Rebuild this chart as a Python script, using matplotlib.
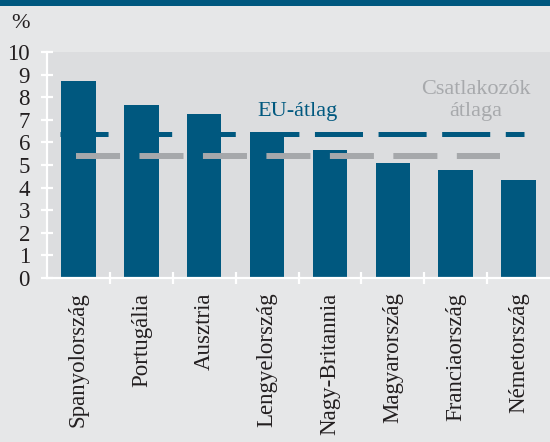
import numpy as np
import matplotlib.pyplot as plt
from matplotlib.patches import Rectangle

plt.rcParams['font.family'] = ['Liberation Serif', 'DejaVu Serif']

# Adatok
countries = ['Spanyolország', 'Portugália', 'Ausztria', 'Lengyelország',
             'Nagy-Britannia', 'Magyarország', 'Franciaország', 'Németország']
values = [8.7, 7.65, 7.25, 6.45, 5.65, 5.1, 4.8, 4.35]
eu_avg = 6.35
acc_avg = 5.4
eu_span = (-0.3, 7.08)
acc_span = (-0.04, 6.7)

blue = '#00587f'
grey_line = '#a6a8ab'
bg = '#e6e7e8'
plot_bg = '#dcdddf'
txt = '#231f20'

fig = plt.figure(figsize=(5.5, 4.42), dpi=100, facecolor=bg)
ax = fig.add_axes([47 / 550, 1 - 278 / 442, 1 - 47 / 550, (278 - 52) / 442])
ax.set_facecolor(plot_bg)

# felso sav
fig.patches.append(Rectangle((0, 1 - 6 / 442), 1, 6 / 442, transform=fig.transFigure,
                             facecolor=blue, edgecolor='none'))

x = np.arange(len(countries))
ax.bar(x, values, width=0.55, color=blue, zorder=2)

eu, = ax.plot(eu_span, [eu_avg, eu_avg], color=blue, linewidth=3.6, zorder=3,
              solid_capstyle='butt', dash_capstyle='butt')
eu.set_dashes((34.6 / 3.6, 11.2 / 3.6))
acc, = ax.plot(acc_span, [acc_avg, acc_avg], color=grey_line, linewidth=4.3, zorder=4,
               solid_capstyle='butt', dash_capstyle='butt')
acc.set_dashes((31.7 / 4.3, 14.0 / 4.3))

ax.text(3.49, 7.35, 'EU-átlag', color=blue, fontsize=16, ha='center', va='center')
ax.text(6.32, 7.85, 'Csatlakozók\nátlaga', color='#a7a9ac', fontsize=16,
        ha='center', va='center', linespacing=1.2)

ax.set_xlim(-0.5, len(countries) - 0.5)
ax.set_ylim(0, 10)
ax.set_yticks(range(0, 11))
ax.set_xticks(x)
ax.set_xticklabels(countries, rotation=90, fontsize=16.5, color=txt)
ax.set_xticks(np.arange(0.5, len(countries) - 0.5), minor=True)

for s in ['top', 'right']:
    ax.spines[s].set_visible(False)
for s in ['left', 'bottom']:
    ax.spines[s].set_color('white')
    ax.spines[s].set_linewidth(1.6)

ax.tick_params(axis='y', direction='inout', length=8.5, width=1.6, color='white',
               labelsize=16.5, labelcolor=txt, pad=8)
ax.tick_params(axis='x', which='major', length=0, pad=10.5)
ax.tick_params(axis='x', which='minor', direction='inout', length=8, width=1.6,
               color='white')

fig.text(20 / 550, 1 - 23 / 442, '%', fontsize=16, color=txt, ha='center', va='center')

fig.savefig('out.png', dpi=100, facecolor=bg)
